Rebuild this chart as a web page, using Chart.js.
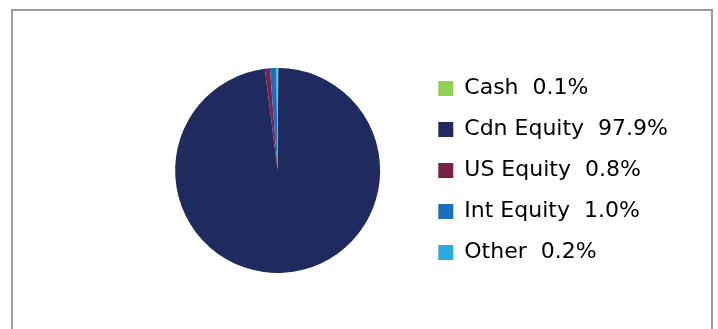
<!DOCTYPE html>
<html lang="en">
<head>
  <meta charset="UTF-8">
  <title>Asset Mix</title>
  <script src="https://cdn.jsdelivr.net/npm/chart.js"></script>
  <style>
    html, body {
      margin: 0;
      padding: 0;
      background: #fff;
      overflow: hidden;
    }
    .frame {
      position: absolute;
      left: 11px;
      top: 9px;
      width: 698px;
      height: 340px;
      border: 2px solid #9c9c9c;
      border-bottom: none;
    }
    .chart-wrap {
      position: absolute;
      left: 0;
      top: 0;
      width: 718px;
      height: 329px;
    }
  </style>
</head>
<body>
<div class="frame"></div>
<div class="chart-wrap">
  <canvas id="mixChart"></canvas>
</div>

<script>
const categories = ['Cash', 'Cdn Equity', 'US Equity', 'Int Equity', 'Other'];
const shares = [0.1, 97.9, 0.8, 1.0, 0.2];
const sliceColors = ['#92D050', '#1F2A5E', '#7B2148', '#1B6EB9', '#2CA9E1'];

const ctx = document.getElementById('mixChart').getContext('2d');
new Chart(ctx, {
  type: 'pie',
  data: {
    labels: categories,
    datasets: [{
      data: shares,
      backgroundColor: sliceColors,
      borderWidth: 0,
      radius: 102.5
    }]
  },
  options: {
    responsive: true,
    maintainAspectRatio: false,
    animation: false,
    layout: {
      // tall area so the legend fits in one column; pie size is fixed by radius
      padding: { left: 136, right: 40, top: 20, bottom: 8 }
    },
    plugins: {
      tooltip: { enabled: false },
      legend: {
        position: 'right',
        align: 'center',
        labels: {
          boxWidth: 15,
          boxHeight: 15,
          padding: 19,
          color: '#000',
          font: { family: 'DejaVu Sans', size: 22 },
          generateLabels(chart) {
            const items = Chart.overrides.pie.plugins.legend.labels.generateLabels(chart);
            items.forEach((item, i) => {
              item.text = categories[i] + '  ' + shares[i].toFixed(1) + '%';
              item.lineWidth = 0;
            });
            return items;
          }
        }
      }
    }
  }
});
</script>
</body>
</html>
